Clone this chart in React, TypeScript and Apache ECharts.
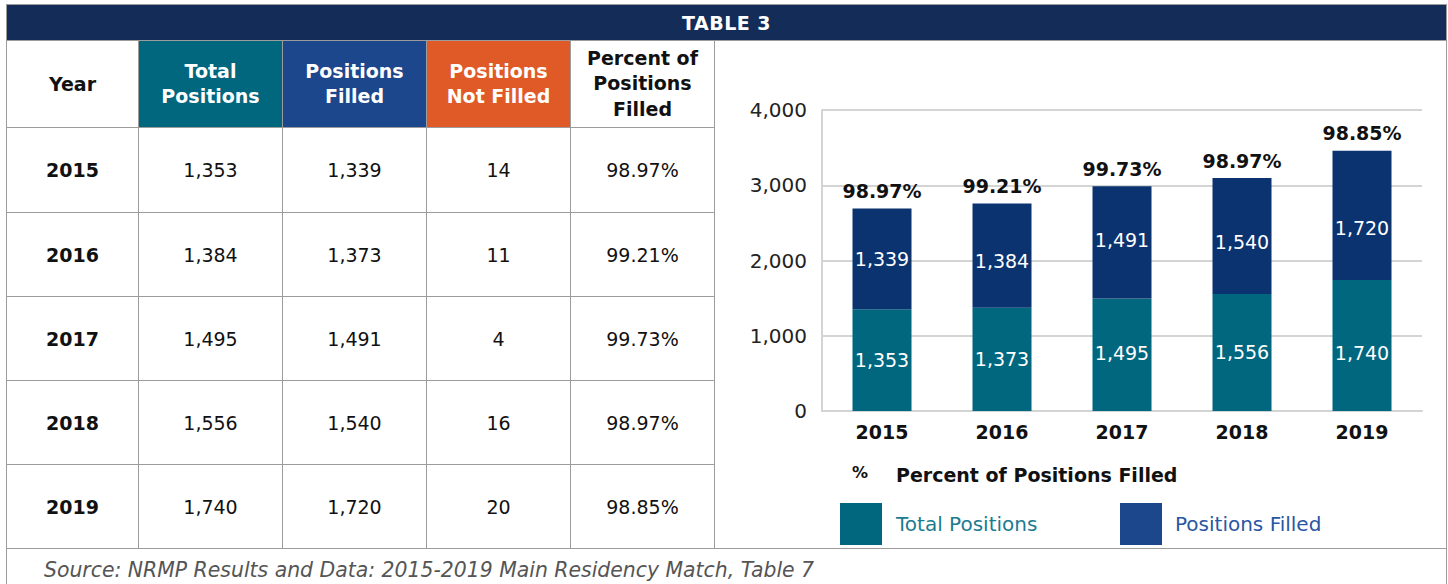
import React, { useEffect, useRef } from "react";
import * as echarts from "echarts";

// ---- table data ----
const tableYears = ["2015", "2016", "2017", "2018", "2019"];
const totalPositions = ["1,353", "1,384", "1,495", "1,556", "1,740"];
const positionsFilled = ["1,339", "1,373", "1,491", "1,540", "1,720"];
const positionsNotFilled = ["14", "11", "4", "16", "20"];
const percentFilled = ["98.97%", "99.21%", "99.73%", "98.97%", "98.85%"];

// ---- chart data (as drawn in the chart) ----
const chartYears = ["2015", "2016", "2017", "2018", "2019"];
const chartTotalPositions = [1353, 1373, 1495, 1556, 1740];
const chartPositionsFilled = [1339, 1384, 1491, 1540, 1720];
const chartPercentLabels = ["98.97%", "99.21%", "99.73%", "98.97%", "98.85%"];

// label nudges (styling only, in px)
const lowerLabelNudge = [0, 0, -2, 0, 7];
const upperLabelNudge = [0, 5, -2, 6, 13];

const FONT = "'DejaVu Sans', 'Open Sans', sans-serif";
const TEAL = "#00677f";
const BLUE = "#1c478c";
const NAVY = "#0b3370";
const ORANGE = "#e05a28";
const BANNER = "#132c58";
const LINE = "#9c9c9c";

const colX = [7, 139, 283, 427, 571, 715];
const rowY = [41, 128, 213, 297, 381, 465, 549];

const headers = [
  { lines: ["Year"], bg: "#ffffff", color: "#111" },
  { lines: ["Total", "Positions"], bg: TEAL, color: "#fff" },
  { lines: ["Positions", "Filled"], bg: BLUE, color: "#fff" },
  { lines: ["Positions", "Not Filled"], bg: ORANGE, color: "#fff" },
  { lines: ["Percent of", "Positions", "Filled"], bg: "#ffffff", color: "#111" },
];

function fmt(v: number) {
  return v.toLocaleString("en-US");
}

function Chart() {
  const ref = useRef<HTMLDivElement>(null);
  useEffect(() => {
    if (!ref.current) return;
    const chart = echarts.init(ref.current, undefined, { renderer: "svg" });
    const insideLabel = {
      show: true,
      position: "inside",
      color: "#fff",
      fontSize: 19,
      fontFamily: FONT,
      formatter: (p: any) => fmt(p.value),
    };
    chart.setOption({
      animation: false,
      backgroundColor: "transparent",
      textStyle: { fontFamily: FONT },
      grid: { left: 822, right: 26, top: 110, bottom: 173 },
      xAxis: {
        type: "category",
        data: chartYears,
        axisLine: { show: true, lineStyle: { color: "#d4d4d4", width: 2 } },
        axisTick: { show: false },
        axisLabel: {
          color: "#111",
          fontSize: 19,
          fontWeight: "bold",
          fontFamily: FONT,
          margin: 11,
        },
      },
      yAxis: {
        type: "value",
        min: 0,
        max: 4000,
        interval: 1000,
        axisLine: { show: true, lineStyle: { color: "#d4d4d4", width: 2 } },
        axisTick: { show: false },
        splitLine: { show: true, lineStyle: { color: "#d4d4d4", width: 2 } },
        axisLabel: {
          color: "#222",
          fontSize: 20,
          fontFamily: FONT,
          margin: 15,
          formatter: (v: number) => fmt(v),
        },
      },
      legend: [
        {
          left: 835,
          top: 498,
          orient: "horizontal",
          icon: "rect",
          itemWidth: 42,
          itemHeight: 42,
          selectedMode: false,
          data: [{ name: "Total Positions", textStyle: { color: "#1b7b91" } }],
          textStyle: { fontSize: 20, fontFamily: FONT, padding: [6, 0, 0, 9] },
        },
        {
          left: 1115,
          top: 498,
          orient: "horizontal",
          icon: "rect",
          itemWidth: 42,
          itemHeight: 42,
          selectedMode: false,
          data: [
            {
              name: "Positions Filled",
              itemStyle: { color: BLUE },
              textStyle: { color: "#2a56a3" },
            },
          ],
          textStyle: { fontSize: 20, fontFamily: FONT, padding: [0, 0, 0, 8] },
        },
      ],
      graphic: [
        {
          type: "text",
          left: 852,
          top: 464,
          style: {
            text: "%",
            fontSize: 16,
            fontWeight: "bold",
            fill: "#111",
            fontFamily: FONT,
          },
        },
        {
          type: "text",
          left: 896,
          top: 465,
          style: {
            text: "Percent of Positions Filled",
            fontSize: 19,
            fontWeight: "bold",
            fill: "#111",
            fontFamily: FONT,
          },
        },
      ],
      series: [
        {
          name: "Total Positions",
          type: "bar",
          stack: "total",
          barWidth: 59,
          data: chartTotalPositions.map((v, i) => ({
            value: v,
            label: { offset: [0, lowerLabelNudge[i]] },
          })),
          itemStyle: { color: TEAL },
          label: insideLabel,
        },
        {
          name: "Positions Filled",
          type: "bar",
          stack: "total",
          barWidth: 59,
          data: chartPositionsFilled.map((v, i) => ({
            value: v,
            label: { offset: [0, upperLabelNudge[i]] },
          })),
          itemStyle: { color: NAVY },
          label: insideLabel,
        },
        {
          name: "Percent of Positions Filled",
          type: "bar",
          stack: "total",
          barWidth: 59,
          data: chartPositionsFilled.map(() => 0),
          itemStyle: { color: "transparent" },
          label: {
            show: true,
            position: "top",
            distance: 8,
            color: "#111",
            fontSize: 19,
            fontWeight: "bold",
            fontFamily: FONT,
            formatter: (p: any) => chartPercentLabels[p.dataIndex],
          },
        },
      ],
    });
    return () => chart.dispose();
  }, []);
  return (
    <div
      ref={ref}
      style={{ position: "absolute", left: 0, top: 0, width: 1448, height: 584, zIndex: 2 }}
    />
  );
}

function Table() {
  const cells: React.ReactNode[] = [];
  headers.forEach((h, c) => {
    cells.push(
      <div
        key={"h" + c}
        style={{
          position: "absolute",
          left: colX[c],
          top: rowY[0],
          width: colX[c + 1] - colX[c],
          height: rowY[1] - rowY[0],
          background: h.bg,
          color: h.color,
          boxSizing: "border-box",
          borderRight: `1.5px solid ${LINE}`,
          borderBottom: `1.5px solid ${LINE}`,
          display: "flex",
          flexDirection: "column",
          alignItems: "center",
          justifyContent: "center",
          fontWeight: 700,
          fontSize: 19,
          lineHeight: h.lines.length === 3 ? "25.5px" : "25px",
          textAlign: "center",
        }}
      >
        {h.lines.map((l, i) => (
          <div key={i}>{l}</div>
        ))}
      </div>
    );
  });
  const cols = [tableYears, totalPositions, positionsFilled, positionsNotFilled, percentFilled];
  for (let r = 0; r < tableYears.length; r++) {
    for (let c = 0; c < cols.length; c++) {
      cells.push(
        <div
          key={`c${r}-${c}`}
          style={{
            position: "absolute",
            left: colX[c],
            top: rowY[r + 1],
            width: colX[c + 1] - colX[c],
            height: rowY[r + 2] - rowY[r + 1],
            boxSizing: "border-box",
            borderRight: `1.5px solid ${LINE}`,
            borderBottom: `1.5px solid ${LINE}`,
            display: "flex",
            alignItems: "center",
            justifyContent: "center",
            fontWeight: c === 0 ? 700 : 400,
            fontSize: 19,
            color: "#111",
          }}
        >
          {cols[c][r]}
        </div>
      );
    }
  }
  return <>{cells}</>;
}

export default function App() {
  return (
    <div
      style={{
        position: "fixed",
        left: 0,
        top: 0,
        width: 1448,
        height: 584,
        background: "#fff",
        overflow: "hidden",
        fontFamily: FONT,
      }}
    >
      {/* outer frame */}
      <div
        style={{
          position: "absolute",
          left: 6,
          top: 4,
          width: 1441,
          height: 620,
          boxSizing: "border-box",
          border: `1.5px solid ${LINE}`,
        }}
      />
      {/* source row top border */}
      <div
        style={{
          position: "absolute",
          left: 7,
          top: 548,
          width: 1439,
          height: 0,
          borderTop: `1.5px solid ${LINE}`,
        }}
      />
      {/* banner */}
      <div
        style={{
          position: "absolute",
          left: 7,
          top: 5,
          width: 1439,
          height: 36,
          background: BANNER,
          color: "#fff",
          fontWeight: 700,
          fontSize: 19,
          display: "flex",
          alignItems: "center",
          justifyContent: "center",
          letterSpacing: 0.5,
          borderBottom: `1px solid ${LINE}`,
          boxSizing: "border-box",
        }}
      >
        TABLE 3
      </div>
      <Table />
      <div
        style={{
          position: "absolute",
          left: 44,
          top: 556,
          fontStyle: "italic",
          fontSize: 20.4,
          color: "#555",
          lineHeight: "28px",
          whiteSpace: "nowrap",
        }}
      >
        Source: NRMP Results and Data: 2015-2019 Main Residency Match, Table 7
      </div>
      <Chart />
    </div>
  );
}
